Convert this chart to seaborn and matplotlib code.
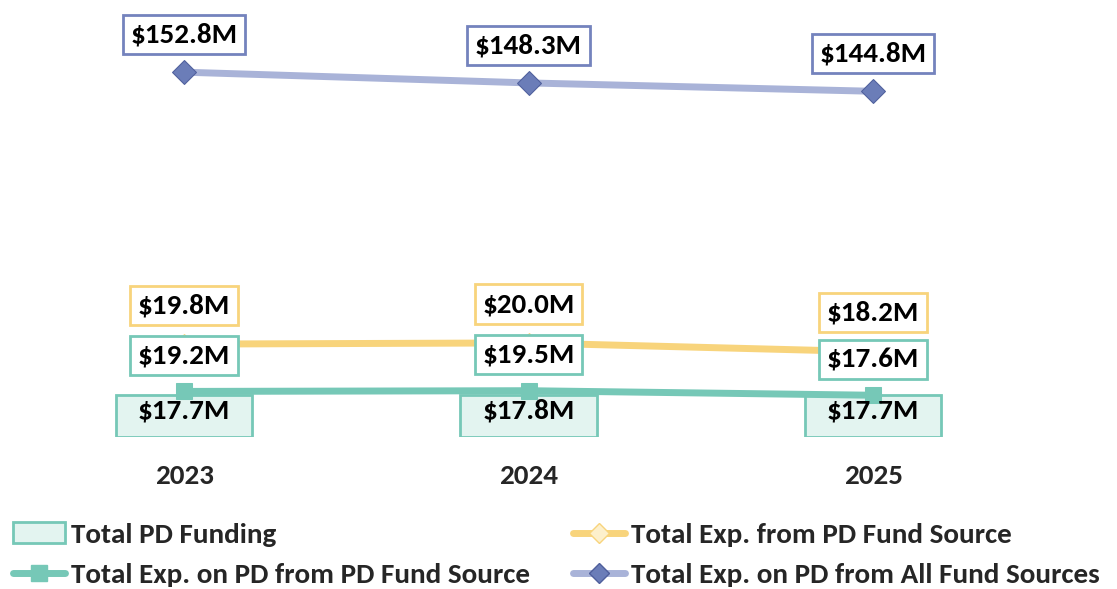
import numpy as np
import pandas as pd
import matplotlib
matplotlib.use("Agg")
import matplotlib.pyplot as plt
import seaborn as sns
from matplotlib.patches import Patch
from matplotlib.lines import Line2D

years = ["2023", "2024", "2025"]
pd_funding = [17.7, 17.8, 17.7]          # Total PD Funding (bars)
exp_pd_from_pd = [19.2, 19.5, 17.6]      # Total Exp. on PD from PD Fund Source
exp_from_pd = [19.8, 20.0, 18.2]         # Total Exp. from PD Fund Source (stacked on the one above)
exp_pd_all = [152.8, 148.3, 144.8]       # Total Exp. on PD from All Fund Sources

TEAL = "#76c8b7"
TEAL_FILL = "#e3f4f0"
ORANGE = "#f8d47c"
BLUE_LINE = "#a9b3d8"
BLUE_MARK = "#6b7db8"
BLUE_EDGE = "#7483bd"

sns.set_theme(style="white")
plt.rcParams["font.family"] = ["Carlito", "DejaVu Sans"]
plt.rcParams["font.weight"] = "bold"

df = pd.DataFrame({"Year": years, "Funding": pd_funding})
pos = np.arange(len(years))
stacked = np.array(exp_pd_from_pd) + np.array(exp_from_pd)

fig = plt.figure(figsize=(11.17, 5.89), dpi=100)
ax = fig.add_axes([0, 1 - 437.3 / 589, 1, 437.3 / 589])

sns.barplot(data=df, x="Year", y="Funding", ax=ax, width=0.395,
            color=TEAL_FILL, edgecolor=TEAL, linewidth=2, saturation=1, zorder=1)

sns.lineplot(x=pos, y=exp_pd_from_pd, ax=ax, color=TEAL, linewidth=5,
             marker="s", markersize=12, markeredgecolor=TEAL, zorder=3)
sns.lineplot(x=pos, y=stacked, ax=ax, color=ORANGE, linewidth=5,
             marker="D", markersize=10, markerfacecolor="#fdf0cc",
             markeredgecolor=ORANGE, zorder=3)
sns.lineplot(x=pos, y=exp_pd_all, ax=ax, color=BLUE_LINE, linewidth=5,
             marker="D", markersize=12, markerfacecolor=BLUE_MARK,
             markeredgecolor="#4f5f9c", zorder=3)

fs = 21

def box_label(x, y, text, edge, dy):
    ax.annotate(text, (x, y), xytext=(0, dy), textcoords="offset points",
                ha="center", va="center", fontsize=fs, fontweight="bold",
                color="black", zorder=5,
                bbox=dict(boxstyle="square,pad=0.26", fc="white", ec=edge, lw=2))

for i in range(len(years)):
    box_label(pos[i], exp_pd_all[i], f"${exp_pd_all[i]:.1f}M", BLUE_EDGE, 27)
    box_label(pos[i], stacked[i], f"${exp_from_pd[i]:.1f}M", ORANGE, 28)
    box_label(pos[i], exp_pd_from_pd[i], f"${exp_pd_from_pd[i]:.1f}M", TEAL, 26)
    ax.annotate(f"${pd_funding[i]:.1f}M", (pos[i], pd_funding[i]), xytext=(0, -11),
                textcoords="offset points", ha="center", va="center",
                fontsize=fs, fontweight="bold", color="black", zorder=6)

ax.set_xlim(-0.534, 2.708)
ax.set_ylim(0, 183)
ax.set_xlabel("")
ax.set_ylabel("")
ax.set_yticks([])
ax.tick_params(axis="x", length=0, pad=19, labelsize=fs)
for lab in ax.get_xticklabels():
    lab.set_fontweight("bold")
for s in ax.spines.values():
    s.set_visible(False)
ax.patch.set_alpha(0)

handles = [
    Patch(facecolor=TEAL_FILL, edgecolor=TEAL, linewidth=2),
    Line2D([], [], color=TEAL, lw=5, marker="s", markersize=12, markeredgecolor=TEAL),
    Line2D([], [], color=ORANGE, lw=5, marker="D", markersize=10,
           markerfacecolor="#fdf0cc", markeredgecolor=ORANGE),
    Line2D([], [], color=BLUE_LINE, lw=5, marker="D", markersize=10,
           markerfacecolor=BLUE_MARK, markeredgecolor="#4f5f9c"),
]
labels = ["Total PD Funding", "Total Exp. on PD from PD Fund Source",
          "Total Exp. from PD Fund Source", "Total Exp. on PD from All Fund Sources"]
fig.legend(handles, labels, loc="upper left", bbox_to_anchor=(0.0116, 0.113),
           ncol=2, frameon=False, handlelength=1.8, handletextpad=0.2,
           columnspacing=1.45, labelspacing=0.55, borderaxespad=0, borderpad=0,
           prop={"family": "Carlito", "weight": "bold", "size": fs})

fig.savefig("out.png", dpi=100)
